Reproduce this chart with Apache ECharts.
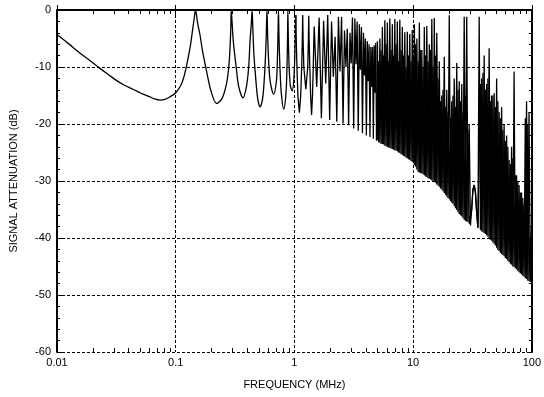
<!DOCTYPE html>
<html>
<head>
<meta charset="utf-8">
<script src="https://cdn.jsdelivr.net/npm/echarts@6/dist/echarts.min.js"></script>
<style>
html,body{margin:0;padding:0;background:#fff;}
#chart{width:544px;height:397px;}
</style>
</head>
<body>
<div id="chart"></div>
<script>
// ---- tick labels / tick values ----
const xTickLabels = ['0.01', '0.1', '1', '10', '100'];
const xMinorTicks = [0.02,0.03,0.04,0.05,0.06,0.07,0.08,0.09,
                     0.2,0.3,0.4,0.5,0.6,0.7,0.8,0.9,
                     2,3,4,5,6,7,8,9,
                     20,30,40,50,60,70,80,90];
const xTitle = 'FREQUENCY (MHz)';
const yTitle = 'SIGNAL ATTENUATION (dB)';

// ---- data: [frequency MHz, attenuation dB] ----
const lowBand = [
  [0.01,-4.3],[0.0125,-5.9],[0.0155,-7.5],[0.019,-8.9],[0.0229,-10.2],[0.027,-11.3],
  [0.0314,-12.3],[0.037,-13.2],[0.0435,-13.9],[0.051,-14.6],[0.06,-15.2],[0.0665,-15.6],
  [0.0738,-15.8],[0.081,-15.7],[0.0882,-15.3],[0.0993,-14.6],[0.1105,-13.2],[0.117,-11.8],
  [0.123,-9.9],[0.129,-7.8],[0.134,-5.8],[0.139,-3.4],[0.143,-1.5],[0.1468,0]
];
const resonanceBand = [
  [0.153,-2.3],[0.160,-4.3],[0.1676,-7.0],[0.179,-10],[0.197,-14],[0.221,-16.4],[0.246,-15.5],
  [0.268,-12.9],[0.280,-10],[0.2875,-6.2],[0.2915,-2.8],
  [0.2936,0],[0.2985,-2.2],[0.306,-5.6],[0.323,-10],[0.34,-13.5],[0.369,-15.4],[0.394,-13.5],
  [0.412,-10],[0.4225,-5.6],[0.433,-2.5],
  [0.4404,0],[0.446,-3.0],[0.455,-7.5],[0.468,-11],[0.49,-15.5],[0.514,-17],[0.54,-15.5],
  [0.558,-12],[0.571,-8],[0.58,-4],
  [0.5872,0],[0.595,-4.5],[0.607,-9],[0.625,-12.5],[0.668,-14.8],[0.705,-12.5],[0.718,-9],[0.727,-4.5],
  [0.734,0],[0.742,-5],[0.755,-10],[0.775,-14.5],[0.814,-17.4],[0.85,-14.5],[0.866,-10],[0.875,-5],
  [0.8808,0],[0.889,-5],[0.903,-10],[0.925,-13.3],[0.96,-14.2],[0.99,-12],[1.008,-8],[1.02,-3.5],
  [1.0276,-0.9]
];
const transitionBand = [
  [1.0276,-0.9],[1.036,-5],[1.05,-10],[1.07,-15],[1.101,-18],[1.13,-15],[1.152,-10],[1.166,-5],
  [1.1744,-0.9],[1.183,-5],[1.2,-10],[1.248,-13.9],[1.295,-10],[1.312,-5],
  [1.3212,-1.0],[1.33,-5],[1.348,-10],[1.37,-15],[1.395,-18.4],[1.42,-15],[1.442,-10],[1.458,-5],
  [1.468,-2.9],[1.541,-13.5],[1.615,-1.3],[1.688,-19],[1.762,-1.9],[1.835,-12.9],[1.908,-0.9],
  [1.982,-19.3],[2.055,-2],[2.128,-11.7],[2.202,-4.7],[2.275,-19.6],[2.349,-1.2],[2.422,-10.8],
  [2.496,-1.2],[2.569,-19.9],[2.642,-3.6],[2.716,-10],[2.789,-3.3],[2.862,-20.2],[2.936,-4.0],
  [3.009,-9.4],[3.083,-1.3],[3.156,-20.8],[3.230,-1.5],[3.303,-9.5],[3.376,-2],[3.450,-21.2],
  [3.523,-2.5],[3.597,-10.5],[3.670,-3],[3.743,-21.6],[3.817,-4],[3.890,-11.5],[3.964,-5],
  [4.037,-22.0],[4.110,-5.5],[4.184,-12.5],[4.257,-6],[4.331,-22.3],[4.404,-6.5],[4.477,-13.5],
  [4.551,-6.5],[4.624,-22.6],[4.698,-6.2],[4.771,-14.5],[4.844,-5.8],[4.918,-22.9]
];
// dense part, 5-10 MHz: upper tips / lower tips
const denseBandLow = [
  [5.000,-5.5],[5.122,-23.2],[5.248,-5.0],[5.376,-23.5],[5.508,-3.0],[5.642,-23.6],[5.780,-1.8],
  [5.922,-23.9],[6.067,-2.2],[6.215,-24.1],[6.368,-1.5],[6.523,-24.3],[6.683,-2.5],[6.846,-24.5],
  [7.013,-1.6],[7.185,-24.7],[7.361,-2.0],[7.541,-25.0],[7.726,-1.7],[7.915,-25.3],[8.109,-3.0],
  [8.307,-25.6],[8.511,-3.9],[8.719,-25.9],[8.932,-3.8],[9.151,-26.2],[9.375,-4.2],[9.604,-26.5],
  [9.839,-3.5]
];
// the interleaved swing at the same frequencies (top of the solid black mass)
const denseBandLowAlt = [
  -22.8,-9,-23.3,-7,-23.5,-8,-23.8,-6,-24.0,-9,-24.2,-7,-24.4,-8,-24.6,-6,-24.8,-9,-25.1,-7,
  -25.4,-8,-25.7,-10,-26.0,-8,-26.3,-9,-26.6
];
// dense part, 10-100 MHz
const denseBandHigh = [
  [10.0,-26.7],[10.245,-2.5],[10.495,-27.5],[10.752,-5],[11.015,-28.4],[11.285,-2.2],[11.561,-28.6],
  [11.844,-7],[12.134,-28.8],[12.431,-3],[12.735,-29.2],[13.046,-2.8],[13.365,-29.5],[13.692,-6],
  [14.027,-29.7],[14.370,-1.6],[14.722,-30.0],[15.082,-1.4],[15.451,-30.3],[15.829,-4],[16.216,-30.8],
  [16.613,-9],[17.019,-31.3],[17.436,-15],[17.862,-31.8],[18.299,-8.2],[18.747,-32.4],[19.206,-14],
  [19.676,-33.0],[20.157,-0.9],[20.65,-33.5],[21.16,-16],[21.67,-34.0],[22.20,-12],[22.75,-34.8],
  [23.30,-9.3],[23.87,-35.5],[24.46,-12.5],[25.06,-36.0],[25.67,-13],[26.30,-36.5],[26.94,-1.2],
  [27.60,-37.0],[28.28,-1.2],[28.97,-37.2],[29.68,-20],[30.40,-37.8],[31.15,-35],[31.91,-31.5],
  [32.69,-30.7],[33.50,-32],[34.32,-35.5],[35.16,-38.2],[36.02,-1.2],[36.90,-38.6],[37.80,-12],
  [38.73,-39.0],[39.67,-8],[40.64,-39.3],[41.64,-13],[42.66,-39.8],[43.70,-6.7],[44.77,-40.3],
  [45.87,-15],[46.99,-40.8],[48.14,-14.6],[49.32,-41.3],[50.53,-12],[51.76,-42.1],[53.03,-17.9],
  [54.33,-42.6],[55.66,-17],[57.02,-43.0],[58.41,-20],[59.84,-43.5],[61.31,-22],[62.81,-44.0],
  [64.34,-26.3],[65.92,-44.5],[67.53,-24],[69.18,-45.0],[70.88,-10.8],[72.61,-45.3],[74.39,-29],
  [76.21,-45.8],[78.08,-30.7],[79.99,-46.2],[81.95,-32],[83.95,-46.6],[86.01,-34],[88.10,-47.0],
  [90.26,-16],[92.47,-47.5],[94.73,-17.9],[97.05,-47.7],[99.43,-38],[100,-41]
];
const denseBandHighAlt = [
  -8,-27.2,-6,-28.0,-9,-28.5,-7,-28.7,-10,-29.0,-8,-29.3,-9,-29.6,-7,-29.9,-10,-30.1,-8,-30.6,
  -12,-31.0,-16,-31.5,-14,-32.1,-17,-32.7,-18,-33.2,-19,-33.8,-15,-34.4,-17,-35.1,-14,-35.8,
  -16,-36.2,-18,-36.8,-15,-37.1,-21,-37.5,-37.8,-35,-31.5,-30.7,-32,-35.5,-38.2,-38.4,-13,-38.8,
  -11,-39.1,-14,-39.5,-12,-40.0,-16,-40.5,-15,-41.0,-17,-41.7,-16,-42.3,-19,-42.8,-21,-43.2,
  -23,-43.7,-24,-44.2,-27,-44.7,-26,-45.1,-29,-45.5,-30,-46.0,-32,-46.4,-33,-46.8,-19,-47.2,
  -20,-47.6,-40,-47.5,-41
];

const FONT = '"Liberation Sans", Arial, Helvetica, sans-serif';
const chart = echarts.init(document.getElementById('chart'), null, {renderer: 'canvas'});

const axisLineStyle = {show: true, lineStyle: {color: '#000', width: 2}};
const gridLineStyle = {show: true, lineStyle: {color: '#000', width: 1, type: [3, 2]}};
const tickStyle = {show: true, inside: true, length: 5, lineStyle: {color: '#000', width: 1}};
const curveStyle = {color: '#000', width: 1.3};

function lineSeries(data, smooth) {
  return {
    type: 'line', xAxisIndex: 0, yAxisIndex: 0, data: data,
    smooth: smooth, showSymbol: false, symbol: 'none', silent: true,
    lineStyle: curveStyle, z: 3
  };
}

const altLow = denseBandLow.map((p, i) => [p[0], denseBandLowAlt[i]]);
const altHigh = denseBandHigh.map((p, i) => [p[0], denseBandHighAlt[i]]);

chart.setOption({
  animation: false,
  backgroundColor: '#fff',
  grid: {left: 57, right: 9, top: 10, bottom: 45, containLabel: false},
  xAxis: [
    {
      type: 'log', logBase: 10, min: 0.01, max: 100, position: 'bottom',
      axisLine: axisLineStyle, axisTick: tickStyle,
      minorTick: {show: false},
      splitLine: gridLineStyle,
      axisLabel: {
        color: '#000', fontSize: 11, fontFamily: FONT, margin: 5,
        formatter: (v, i) => xTickLabels[i]
      },
      name: xTitle, nameLocation: 'middle', nameGap: 27,
      nameTextStyle: {color: '#000', fontSize: 11, fontFamily: FONT}
    },
    {
      type: 'log', logBase: 10, min: 0.01, max: 100, position: 'top',
      axisLine: axisLineStyle, axisTick: tickStyle,
      minorTick: {show: false}, splitLine: {show: false}, axisLabel: {show: false}
    }
  ],
  yAxis: [
    {
      type: 'value', min: -60, max: 0, interval: 10, position: 'left',
      axisLine: axisLineStyle, axisTick: tickStyle,
      minorTick: {show: true, splitNumber: 5, length: 3, lineStyle: {color: '#000', width: 1}},
      splitLine: gridLineStyle,
      axisLabel: {color: '#000', fontSize: 11, fontFamily: FONT, margin: 6},
      name: yTitle, nameLocation: 'middle', nameGap: 38,
      nameTextStyle: {color: '#000', fontSize: 11, fontFamily: FONT}
    },
    {
      type: 'value', min: -60, max: 0, interval: 10, position: 'right',
      axisLine: axisLineStyle, axisTick: tickStyle,
      minorTick: {show: true, splitNumber: 5, length: 3, lineStyle: {color: '#000', width: 1}},
      splitLine: {show: false}, axisLabel: {show: false}
    }
  ],
  series: [
    {
      type: 'custom', xAxisIndex: 0, yAxisIndex: 0, silent: true, z: 4,
      data: xMinorTicks.map(v => [v]),
      renderItem: function (params, api) {
        const v = api.value(0);
        const b = api.coord([v, -60]);
        const t = api.coord([v, 0]);
        const x = Math.round(b[0]) + 0.5;
        return {
          type: 'group',
          children: [
            {type: 'line', shape: {x1: x, y1: b[1], x2: x, y2: b[1] - 4}, style: {stroke: '#000', lineWidth: 1}},
            {type: 'line', shape: {x1: x, y1: t[1], x2: x, y2: t[1] + 4}, style: {stroke: '#000', lineWidth: 1}}
          ]
        };
      }
    },
    lineSeries(lowBand.concat(resonanceBand), 0.3),
    lineSeries(transitionBand, false),
    lineSeries(transitionBand.slice(-1).concat(denseBandLow, denseBandHigh), false),
    lineSeries(altLow.concat(altHigh), false)
  ]
});
</script>
</body>
</html>
